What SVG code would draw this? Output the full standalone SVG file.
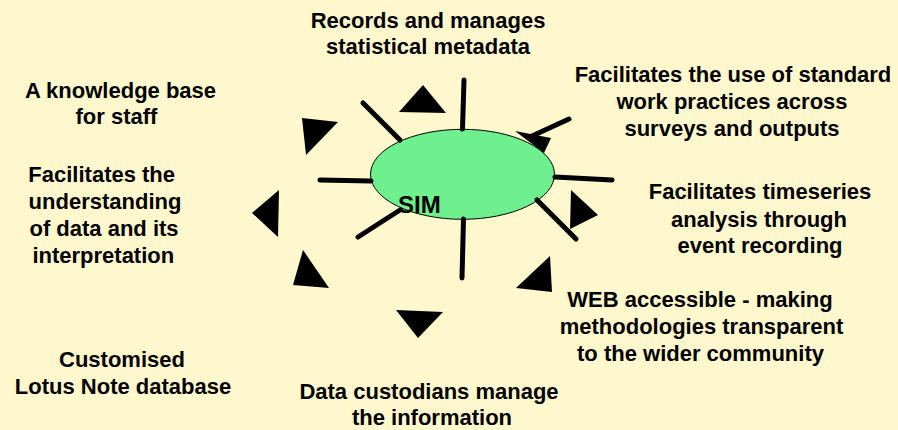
<svg xmlns="http://www.w3.org/2000/svg" width="898" height="430" viewBox="0 0 898 430">
  <style>
    .lbl { font-family: "Liberation Sans", Arial, sans-serif; font-weight: bold; font-size: 22px; fill: #000; text-anchor: middle; }
    .sim { font-family: "Liberation Sans", Arial, sans-serif; font-weight: bold; font-size: 24px; fill: #000; }
    .ray { stroke: #000; stroke-width: 5; stroke-linecap: round; fill: none; }
    .tri { fill: #000; stroke: none; }
  </style>
  <rect x="0" y="0" width="898" height="430" fill="#FFF8CC"/>

  <g id="arrow-behind">
    <polygon class="tri" points="515,131 551,138 544,153"/>
  </g>

  <g id="sim-node">
    <ellipse cx="462.5" cy="174.3" rx="92" ry="45" fill="#6DF08D" stroke="#000" stroke-width="1"/>
  </g>

  <g id="connectors">
    <line class="ray" x1="464" y1="80" x2="462.5" y2="129"/>
    <line class="ray" x1="363" y1="103" x2="400" y2="140"/>
    <line class="ray" x1="320" y1="180" x2="371" y2="181"/>
    <line class="ray" x1="358" y1="237" x2="400" y2="210"/>
    <line class="ray" x1="462" y1="278" x2="463.5" y2="219"/>
    <line class="ray" x1="576" y1="239" x2="537" y2="200"/>
    <line class="ray" x1="555" y1="177" x2="612" y2="180"/>
    <line class="ray" x1="569" y1="119" x2="532" y2="136"/>
    <polygon class="tri" points="423,85 399,112 446,113"/>
    <polygon class="tri" points="302,118 338,122 306,155"/>
    <polygon class="tri" points="252,213 279,190 278,237"/>
    <polygon class="tri" points="303,250 293,285 329,288"/>
    <polygon class="tri" points="396,310 443,312 418,338"/>
    <polygon class="tri" points="550,256 516,288 552,292"/>
    <polygon class="tri" points="571,190 598,215 570,229"/>
  </g>

  <g id="sim-label">
    <text class="sim" x="398" y="213">SIM</text>
  </g>

  <g id="records">
    <text class="lbl" x="428" y="28">Records and manages</text>
    <text class="lbl" x="428" y="54">statistical metadata</text>
  </g>
  <g id="standard-practices">
    <text class="lbl" x="733" y="82">Facilitates the use of standard</text>
    <text class="lbl" x="732" y="109">work practices across</text>
    <text class="lbl" x="732" y="136">surveys and outputs</text>
  </g>
  <g id="timeseries">
    <text class="lbl" x="760" y="199">Facilitates timeseries</text>
    <text class="lbl" x="759" y="227">analysis through</text>
    <text class="lbl" x="760" y="253">event recording</text>
  </g>
  <g id="knowledge-base">
    <text class="lbl" x="120.5" y="98">A knowledge base</text>
    <text class="lbl" x="116.5" y="124">for staff</text>
  </g>
  <g id="understanding">
    <text class="lbl" x="101.7" y="182">Facilitates the</text>
    <text class="lbl" x="105" y="209">understanding</text>
    <text class="lbl" x="104" y="236">of data and its</text>
    <text class="lbl" x="103.3" y="263">interpretation</text>
  </g>
  <g id="lotus">
    <text class="lbl" x="122" y="367">Customised</text>
    <text class="lbl" x="123" y="394">Lotus Note database</text>
  </g>
  <g id="web">
    <text class="lbl" x="700" y="307">WEB accessible - making</text>
    <text class="lbl" x="701.5" y="334">methodologies transparent</text>
    <text class="lbl" x="700.5" y="361">to the wider community</text>
  </g>
  <g id="custodians">
    <text class="lbl" x="429" y="399">Data custodians manage</text>
    <text class="lbl" x="432" y="425">the information</text>
  </g>
</svg>
